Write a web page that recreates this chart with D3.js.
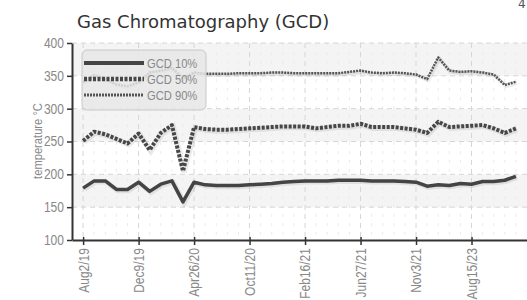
<!DOCTYPE html>
<html>
<head>
<meta charset="utf-8">
<script src="https://cdn.jsdelivr.net/npm/d3@7"></script>
<style>
    body { margin: 0; background: #fff; }
    svg { display: block; }
</style>
</head>
<body>
<div id="main"></div>
<script>
const width = 527;
const height = 300;

// one sample per category, labels shown every 5th one
const categoryCount = 40;
const tickEvery = 5;
const tickLabels = ["Aug2/19", "Dec9/19", "Apr26/20", "Oct11/20", "Feb16/21", "Jun27/21", "Nov3/21", "Aug15/23"];
const yTicks = [100, 150, 200, 250, 300, 350, 400];

const gcd10 = [179, 190, 190, 177, 177, 188, 174, 185, 190, 158, 188, 184, 183, 183, 183, 184, 185, 186, 188, 189,
    190, 190, 190, 191, 191, 191, 190, 190, 190, 189, 188, 182, 184, 183, 186, 185, 189, 189, 191, 197];
const gcd50 = [251, 265, 261, 254, 247, 262, 237, 263, 275, 205, 272, 269, 268, 268, 269, 270, 271, 272, 273, 273,
    273, 270, 272, 274, 274, 277, 272, 272, 272, 270, 268, 263, 280, 272, 273, 274, 275, 270, 263, 270];
const gcd90 = [340, 351, 345, 337, 334, 340, 355, 358, 362, 346, 355, 353, 353, 353, 354, 354, 354, 355, 355, 354,
    354, 354, 354, 354, 356, 358, 355, 354, 355, 354, 352, 345, 378, 358, 356, 357, 355, 352, 336, 341];

const seriesNames = ["GCD 10%", "GCD 50%", "GCD 90%"];
const seriesValues = [gcd10, gcd50, gcd90];
const seriesStyle = [
    { color: "#444", width: 3.5, dash: null },
    { color: "#474747", width: 4, dash: "3,1.5" },
    { color: "#555", width: 2.5, dash: "2,1" }
];

// no condensed face installed, so squeeze Liberation Sans horizontally
const labelFont = "'Liberation Sans', Arial, sans-serif";
const squeeze = 0.86;

const svg = d3
    .select("#main")
    .append("svg")
    .attr("width", width)
    .attr("height", height);

const x = d3.scalePoint()
    .domain(d3.range(categoryCount))
    .range([72, 527])
    .padding(1);

const y = d3.scaleLinear()
    .domain([100, 400])
    .range([240, 43]);

// alternating background bands
svg.append("g")
    .selectAll("rect")
    .data(yTicks.slice(0, -1))
    .join("rect")
    .attr("x", 72)
    .attr("width", width - 72)
    .attr("y", d => y(d + 50))
    .attr("height", d => y(d) - y(d + 50))
    .attr("fill", (d, i) => i % 2 == 1 ? "#f4f4f4" : "#fff");

// minor vertical grid, every category
svg.append("g")
    .selectAll("line")
    .data(x.domain().filter(i => i % tickEvery != 0))
    .join("line")
    .attr("x1", d => x(d))
    .attr("x2", d => x(d))
    .attr("y1", y(400))
    .attr("y2", y(100))
    .attr("stroke", "#ebebeb")
    .attr("stroke-dasharray", "3,6");

// major vertical grid
svg.append("g")
    .selectAll("line")
    .data(x.domain().filter(i => i % tickEvery == 0))
    .join("line")
    .attr("x1", d => x(d))
    .attr("x2", d => x(d))
    .attr("y1", y(400))
    .attr("y2", y(100))
    .attr("stroke", "#d6d6d6")
    .attr("stroke-dasharray", "5,4");

// horizontal grid
svg.append("g")
    .selectAll("line")
    .data(yTicks.slice(1))
    .join("line")
    .attr("x1", 72)
    .attr("x2", width)
    .attr("y1", d => y(d))
    .attr("y2", d => y(d))
    .attr("stroke", "#d6d6d6")
    .attr("stroke-dasharray", "5,4");

const line = d3.line()
    .x((d, i) => x(i))
    .y(d => y(d));

// line shadows
svg.append("g")
    .attr("transform", "translate(1.2,1.2)")
    .selectAll("path")
    .data(seriesValues)
    .join("path")
    .attr("d", line)
    .attr("fill", "none")
    .attr("stroke", "#000")
    .attr("stroke-opacity", 0.08)
    .attr("stroke-width", (d, i) => seriesStyle[i].width + 1.5);

svg.append("g")
    .selectAll("path")
    .data(seriesValues)
    .join("path")
    .attr("d", line)
    .attr("fill", "none")
    .attr("stroke", (d, i) => seriesStyle[i].color)
    .attr("stroke-width", (d, i) => seriesStyle[i].width)
    .attr("stroke-dasharray", (d, i) => seriesStyle[i].dash)
    .attr("stroke-linejoin", "round");

// axes
const yAxis = svg.append("g")
    .attr("transform", "translate(72,0)")
    .call(d3.axisLeft(y)
        .tickValues(yTicks)
        .tickSize(5)
        .tickSizeOuter(0)
        .tickPadding(3));

yAxis.selectAll(".tick text")
    .attr("transform", "scale(" + squeeze + ",1)")
    .attr("x", -8 / squeeze);

const xAxis = svg.append("g")
    .attr("transform", "translate(0,240)")
    .call(d3.axisBottom(x)
        .tickValues(x.domain().filter(i => i % tickEvery == 0))
        .tickFormat(i => tickLabels[i / tickEvery])
        .tickSize(5)
        .tickSizeOuter(0));

xAxis.selectAll(".tick line")
    .attr("y1", -3);

xAxis.selectAll(".tick text")
    .attr("transform", "rotate(-90) scale(" + squeeze + ",1)")
    .attr("x", -8 / squeeze)
    .attr("y", 0)
    .attr("dy", "0.35em")
    .attr("text-anchor", "end");

[xAxis, yAxis].forEach(g => {
    g.select(".domain")
        .attr("stroke", "#333")
        .attr("stroke-width", 2);
    g.selectAll(".tick line")
        .attr("stroke", "#333")
        .attr("stroke-width", 1.5);
    g.selectAll(".tick text")
        .attr("fill", "#888")
        .style("font-family", labelFont)
        .style("font-size", "14px");
});

svg.append("text")
    .attr("transform", "translate(42,141) rotate(-90) scale(" + squeeze + ",1)")
    .attr("text-anchor", "middle")
    .attr("fill", "#888")
    .style("font-family", labelFont)
    .style("font-size", "13px")
    .text("temperature °C");

svg.append("text")
    .attr("x", 77)
    .attr("y", 28)
    .attr("fill", "#333")
    .style("font-family", "'DejaVu Sans', sans-serif")
    .style("font-size", "18px")
    .text("Gas Chromatography (GCD)");

svg.append("text")
    .attr("x", 518)
    .attr("y", 8)
    .attr("fill", "#555")
    .style("font-family", "'DejaVu Sans', sans-serif")
    .style("font-size", "12px")
    .text("4");

// legend
const legend = svg.append("g")
    .attr("id", "legend");

legend.append("rect")
    .attr("x", 82)
    .attr("y", 50)
    .attr("width", 124)
    .attr("height", 60)
    .attr("rx", 5)
    .attr("fill", "#e6e6e6")
    .attr("fill-opacity", 0.85)
    .attr("stroke", "#c8c8c8");

const legendRow = legend.selectAll(".row")
    .data(seriesNames)
    .join("g")
    .attr("class", "row")
    .attr("transform", (d, i) => "translate(0," + (63 + i * 16) + ")");

legendRow.append("line")
    .attr("x1", 84)
    .attr("x2", 144)
    .attr("stroke", (d, i) => seriesStyle[i].color)
    .attr("stroke-width", (d, i) => seriesStyle[i].width + 0.5)
    .attr("stroke-dasharray", (d, i) => seriesStyle[i].dash);

legendRow.append("text")
    .attr("transform", "translate(147,0) scale(" + squeeze + ",1)")
    .attr("dy", "0.35em")
    .attr("fill", "#888")
    .style("font-family", labelFont)
    .style("font-size", "13px")
    .text(d => d);
</script>
</body>
</html>
